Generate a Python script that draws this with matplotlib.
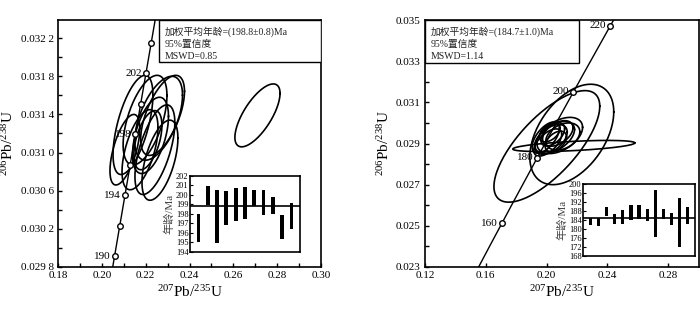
import numpy as np
import matplotlib
matplotlib.use("Agg")
from matplotlib import pyplot as plt
from matplotlib.patches import Rectangle
from matplotlib.ticker import FuncFormatter

plt.rcParams.update({
    "font.family": ["Liberation Serif", "Noto Sans CJK SC"],
    "mathtext.fontset": "custom",
    "mathtext.rm": "Liberation Serif",
    "mathtext.it": "Liberation Serif:italic",
    "axes.unicode_minus": False,
})

# decay constants (1/yr) for the concordia curve
L238 = 1.55125e-10
L235 = 9.8485e-10

# ---- left sample: ellipse centres, half-widths, rho
left_x = [0.2142, 0.2197, 0.2259, 0.2277, 0.2222, 0.2174, 0.2242, 0.2210, 0.2265, 0.2105, 0.2710]
left_sx = [0.0091, 0.0100, 0.0109, 0.0100, 0.0082, 0.0082, 0.0091, 0.0064, 0.0082, 0.0068, 0.0103]
left_y = [0.03129, 0.03134, 0.03136, 0.03139, 0.03118, 0.03103, 0.03103, 0.03113, 0.03092, 0.03103, 0.03139]
left_sy = [0.00052, 0.00047, 0.00044, 0.00042, 0.00040, 0.00042, 0.00047, 0.00031, 0.00042, 0.00037, 0.00033]
left_rho = [0.6, 0.55, 0.55, 0.6, 0.5, 0.55, 0.6, 0.5, 0.55, 0.6, 0.7]
left_ages = [190, 192, 194, 196, 198, 200, 202, 204]
left_labels = [190, 194, 198, 202]
left_lo = [195.1, 198.9, 194.9, 196.8, 197.3, 197.5, 198.8, 197.9, 198.0, 195.4, 196.4]
left_hi = [198.0, 200.9, 200.5, 200.4, 200.7, 200.8, 200.5, 200.5, 199.8, 197.9, 199.2]
left_mean = 198.8
left_text = "加权平均年龄=(198.8±0.8)Ma\n95%置信度\nMSWD=0.85"

# ---- right sample
right_x = [0.2002, 0.2166, 0.2179, 0.2087, 0.2054, 0.2028, 0.2074, 0.2008, 0.2107, 0.2041, 0.1995, 0.2061, 0.2021]
right_sx = [0.0348, 0.0276, 0.0401, 0.0150, 0.0130, 0.0108, 0.0100, 0.0092, 0.0112, 0.0078, 0.0090, 0.0070, 0.0068]
right_y = [0.02886, 0.02944, 0.02888, 0.02939, 0.02929, 0.02920, 0.02949, 0.02905, 0.02934, 0.02944, 0.02929, 0.02910, 0.02954]
right_sy = [0.00271, 0.00244, 0.00027, 0.00088, 0.00078, 0.00072, 0.00062, 0.00066, 0.00066, 0.00056, 0.00076, 0.00050, 0.00046]
right_rho = [0.72, 0.45, 0.55, 0.45, 0.5, 0.5, 0.45, 0.6, 0.35, 0.5, 0.6, 0.45, 0.45]
right_ages = [160, 180, 200, 220]
right_labels = [160, 180, 200, 220]
right_lo = [181.8, 181.5, 185.9, 182.2, 182.2, 183.9, 184.3, 183.4, 176.4, 184.4, 181.8, 171.9, 182.2]
right_hi = [184.7, 184.7, 189.8, 186.7, 188.5, 190.6, 190.6, 188.9, 197.3, 188.9, 187.0, 193.6, 189.8]
right_mean = 184.7
right_text = "加权平均年龄=(184.7±1.0)Ma\n95%置信度\nMSWD=1.14"


def concordia(t_ma):
    t = np.asarray(t_ma) * 1e6
    return np.exp(L235 * t) - 1, np.exp(L238 * t) - 1


def draw_panel(ax, xs, sxs, ys, sys_, rhos, ages, labels, tmin, tmax):
    t = np.linspace(tmin, tmax, 300)
    cx, cy = concordia(t)
    ax.plot(cx, cy, color="black", lw=1.0, zorder=2)
    th = np.linspace(0, 2 * np.pi, 200)
    for x, sx, y, sy, r in zip(xs, sxs, ys, sys_, rhos):
        ex = x + sx * np.cos(th)
        ey = y + sy * (r * np.cos(th) + np.sqrt(1 - r * r) * np.sin(th))
        ax.plot(ex, ey, color="black", lw=1.2, zorder=3)
    mx, my = concordia(ages)
    ax.plot(mx, my, "o", ms=4, mfc="white", mec="black", mew=1.0, zorder=5)
    for a in labels:
        lx, ly = concordia(a)
        ax.annotate(str(a), (lx, ly), xytext=(-3, 0), textcoords="offset points",
                    ha="right", va="center", fontsize=8, zorder=4)


def style(ax):
    for s in ax.spines.values():
        s.set_linewidth(1.2)
    ax.tick_params(direction="in", length=3, width=1, labelsize=8, pad=3)
    ax.tick_params(which="minor", direction="in", length=3, width=1)


def info_box(ax, x0, w, h, text):
    ax.add_patch(Rectangle((x0, 1 - h), w, h, transform=ax.transAxes,
                           facecolor="white", edgecolor="black", lw=1.0, zorder=6))
    ax.text(x0 + 0.02, 0.975, text, transform=ax.transAxes, ha="left", va="top",
            fontsize=7, linespacing=1.45, color="#222222", zorder=7)


def inset(fig, rect, lo, hi, mean, ymin, ymax, step, xmax):
    ia = fig.add_axes(rect)
    pos = np.arange(1, len(lo) + 1)
    ia.bar(pos, np.array(hi) - np.array(lo), bottom=lo, width=0.4, color="black")
    ia.axhline(mean, color="black", lw=1.2)
    ia.set_xlim(0.1, xmax)
    ia.set_ylim(ymin, ymax)
    ia.set_yticks(np.arange(ymin, ymax + step, step))
    ia.set_xticks([])
    ia.tick_params(axis="y", direction="in", length=2, labelsize=6, pad=1)
    for s in ia.spines.values():
        s.set_linewidth(1.2)
    ia.set_ylabel("年龄/Ma", fontsize=8, color="#444444", labelpad=1)
    return ia


fig = plt.figure(figsize=(7.0, 3.13), dpi=100)

# left panel
ax1 = fig.add_axes([0.0829, 0.147, 0.3757, 0.789])
draw_panel(ax1, left_x, left_sx, left_y, left_sy, left_rho, left_ages, left_labels, 185, 208)
ax1.set_xlim(0.18, 0.30)
ax1.set_ylim(0.0298, 0.03239)
ax1.set_xticks(np.arange(0.18, 0.3001, 0.02))
ax1.set_xticks(np.arange(0.19, 0.30, 0.02), minor=True)
ax1.set_yticks(np.arange(0.0298, 0.03230, 0.0004))
ax1.set_yticks(np.arange(0.0300, 0.03239, 0.0004), minor=True)
ax1.xaxis.set_major_formatter(FuncFormatter(lambda v, p: f"{v:.2f}"))
ax1.yaxis.set_major_formatter(FuncFormatter(lambda v, p: f"{v:.4f}"[:5] + " " + f"{v:.4f}"[5:]))
style(ax1)
ax1.set_xlabel(r"$^{207}\mathrm{Pb}/^{235}\mathrm{U}$", fontsize=11, labelpad=3)
ax1.set_ylabel(r"$^{206}\mathrm{Pb}/^{238}\mathrm{U}$", fontsize=11, labelpad=3)
info_box(ax1, 0.384, 0.616, 0.17, left_text)
inset(fig, [0.2714, 0.1949, 0.1571, 0.2428], left_lo, left_hi, left_mean, 194, 202, 1, 11.9)

# right panel
ax2 = fig.add_axes([0.607, 0.147, 0.391, 0.789])
draw_panel(ax2, right_x, right_sx, right_y, right_sy, right_rho, right_ages, right_labels, 140, 225)
ax2.set_xlim(0.12, 0.30)
ax2.set_ylim(0.023, 0.035)
ax2.set_xticks(np.arange(0.12, 0.2801, 0.04))
ax2.set_yticks(np.arange(0.023, 0.03501, 0.002))
ax2.set_yticks(np.arange(0.024, 0.0345, 0.002), minor=True)
ax2.xaxis.set_major_formatter(FuncFormatter(lambda v, p: f"{v:.2f}"))
ax2.yaxis.set_major_formatter(FuncFormatter(lambda v, p: f"{v:.3f}"))
style(ax2)
ax2.set_xlabel(r"$^{207}\mathrm{Pb}/^{235}\mathrm{U}$", fontsize=11, labelpad=3)
ax2.set_ylabel(r"$^{206}\mathrm{Pb}/^{238}\mathrm{U}$", fontsize=11, labelpad=3)
info_box(ax2, 0.0, 0.562, 0.174, right_text)
inset(fig, [0.8329, 0.1821, 0.16, 0.23], right_lo, right_hi, right_mean, 168, 200, 4, 13.9)

fig.savefig("out.png", dpi=100)
